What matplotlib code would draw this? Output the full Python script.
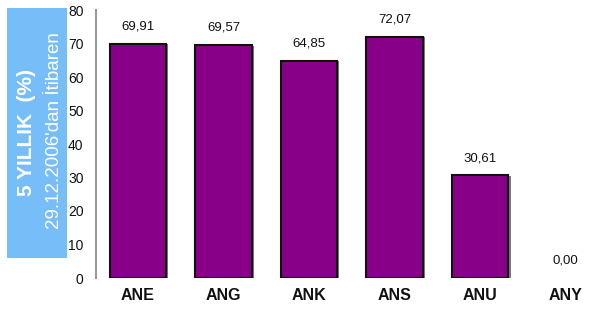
import matplotlib
matplotlib.use("Agg")
import matplotlib.pyplot as plt
from matplotlib.patches import Rectangle
import matplotlib.patheffects as pe

categories = ["ANE", "ANG", "ANK", "ANS", "ANU", "ANY"]
values = [69.91, 69.57, 64.85, 72.07, 30.61, 0.00]
value_labels = ["69,91", "69,57", "64,85", "72,07", "30,61", "0,00"]
yticks = [0, 10, 20, 30, 40, 50, 60, 70, 80]

plt.rcParams['font.family'] = ['Liberation Sans', 'DejaVu Sans']

W, H = 594, 312
fig = plt.figure(figsize=(W / 100, H / 100), dpi=100)
ax = fig.add_axes([96 / W, (H - 278) / H, (594 - 96) / W, (278 - 10) / H])

x = list(range(len(categories)))
lws = [1.5 if v > 0 else 0 for v in values]
bars = ax.bar(x, values, width=0.66, color="#880088", edgecolor="#111111", linewidth=lws,
              path_effects=[pe.SimplePatchShadow(offset=(1.5, -0.5), shadow_rgbFace="#222222", alpha=0.6), pe.Normal()])
bars[-1].set_visible(values[-1] > 0)

for xi, v, lab in zip(x, values, value_labels):
    ax.annotate(lab, (xi, v), xytext=(0, 8), textcoords="offset points",
                ha="center", va="bottom", fontsize=9.5, color="#111111")

ax.set_ylim(0, 80)
ax.set_xlim(-0.49, 5.33)
ax.set_yticks(yticks)
ax.set_yticklabels([str(t) for t in yticks], fontsize=10)
ax.set_xticks(x)
ax.set_xticklabels(categories, fontsize=11.5, fontweight="bold")
ax.tick_params(axis="both", length=0, colors="#111111")
ax.tick_params(axis="y", pad=9)
ax.tick_params(axis="x", pad=7)
for s in ["top", "right", "bottom"]:
    ax.spines[s].set_visible(False)
ax.spines["left"].set_color("#999999")
ax.spines["left"].set_linewidth(1.5)

# blue label box
box = Rectangle((7 / W, (H - 258) / H), 60 / W, 250 / H, transform=fig.transFigure,
                facecolor="#77BDF7", edgecolor="none")
fig.patches.append(box)
fig.text(27 / W, 1 - 133 / H, "5 YILLIK  (%)", rotation=90, ha="center", va="center",
         color="white", fontsize=15, fontweight="bold")
fig.text(55 / W, 1 - 131 / H, "29.12.2006'dan İtibaren", rotation=90, ha="center", va="center",
         color="white", fontsize=13.5)

fig.savefig("out.png", dpi=100)
